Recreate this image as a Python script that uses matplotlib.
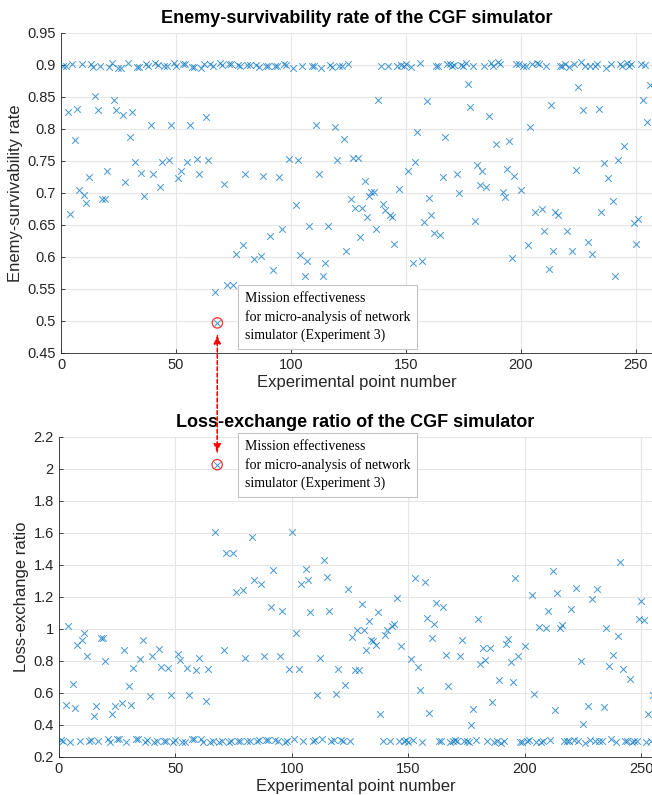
import matplotlib
matplotlib.use("Agg")
import matplotlib.pyplot as plt
from matplotlib.patches import ConnectionPatch
import numpy as np

# experimental point numbers 1..256
point_no = np.arange(1, 257)

# enemy-survivability rate per experimental point
enemy_surv = [
    0.899, 0.898, 0.826, 0.667, 0.902, 0.783, 0.831, 0.705, 0.901, 0.697,
    0.684, 0.725, 0.901, 0.897, 0.851, 0.829, 0.899, 0.691, 0.690, 0.734,
    0.897, 0.903, 0.845, 0.829, 0.896, 0.896, 0.822, 0.717, 0.903, 0.787,
    0.827, 0.749, 0.897, 0.897, 0.731, 0.696, 0.902, 0.899, 0.807, 0.729,
    0.903, 0.900, 0.709, 0.748, 0.899, 0.899, 0.751, 0.806, 0.903, 0.899,
    0.723, 0.734, 0.902, 0.901, 0.749, 0.806, 0.897, 0.897, 0.753, 0.730,
    0.896, 0.902, 0.818, 0.752, 0.902, 0.899, 0.546, 0.497, 0.903, 0.900,
    0.714, 0.557, 0.902, 0.901, 0.557, 0.605, 0.900, 0.899, 0.619, 0.730,
    0.900, 0.900, 0.545, 0.597, 0.900, 0.897, 0.601, 0.726, 0.898, 0.898,
    0.633, 0.580, 0.899, 0.899, 0.725, 0.643, 0.902, 0.900, 0.753, 0.540,
    0.896, 0.682, 0.751, 0.603, 0.899, 0.570, 0.593, 0.648, 0.899, 0.899,
    0.806, 0.730, 0.895, 0.571, 0.591, 0.648, 0.900, 0.897, 0.803, 0.752,
    0.898, 0.899, 0.785, 0.610, 0.901, 0.690, 0.754, 0.676, 0.754, 0.632,
    0.676, 0.719, 0.663, 0.695, 0.702, 0.702, 0.644, 0.846, 0.899, 0.683,
    0.673, 0.899, 0.665, 0.663, 0.620, 0.899, 0.707, 0.900, 0.898, 0.902,
    0.735, 0.897, 0.591, 0.748, 0.796, 0.903, 0.593, 0.654, 0.843, 0.692,
    0.666, 0.638, 0.899, 0.899, 0.634, 0.725, 0.787, 0.902, 0.901, 0.898,
    0.900, 0.729, 0.700, 0.900, 0.899, 0.903, 0.870, 0.835, 0.898, 0.657,
    0.743, 0.712, 0.735, 0.899, 0.709, 0.821, 0.903, 0.899, 0.776, 0.904,
    0.901, 0.702, 0.693, 0.737, 0.781, 0.598, 0.726, 0.902, 0.902, 0.704,
    0.899, 0.898, 0.618, 0.803, 0.902, 0.670, 0.903, 0.901, 0.675, 0.640,
    0.898, 0.581, 0.838, 0.609, 0.670, 0.665, 0.899, 0.899, 0.901, 0.640,
    0.897, 0.609, 0.901, 0.736, 0.865, 0.904, 0.829, 0.898, 0.623, 0.899,
    0.605, 0.899, 0.901, 0.832, 0.670, 0.747, 0.895, 0.724, 0.902, 0.688,
    0.571, 0.752, 0.901, 0.899, 0.773, 0.903, 0.899, 0.901, 0.653, 0.621,
    0.660, 0.902, 0.846, 0.900, 0.811, 0.868,
]

# loss-exchange ratio per experimental point
loss_ratio = [
    0.305, 0.303, 0.523, 1.021, 0.293, 0.654, 0.508, 0.898, 0.297, 0.929,
    0.977, 0.831, 0.297, 0.309, 0.454, 0.521, 0.302, 0.944, 0.944, 0.802,
    0.311, 0.291, 0.471, 0.521, 0.313, 0.312, 0.537, 0.867, 0.292, 0.644,
    0.527, 0.758, 0.311, 0.310, 0.815, 0.929, 0.296, 0.304, 0.581, 0.829,
    0.291, 0.299, 0.877, 0.762, 0.303, 0.302, 0.756, 0.585, 0.292, 0.304,
    0.842, 0.804, 0.294, 0.296, 0.756, 0.588, 0.310, 0.311, 0.746, 0.821,
    0.313, 0.296, 0.550, 0.752, 0.295, 0.303, 1.606, 2.027, 0.291, 0.299,
    0.871, 1.475, 0.295, 0.297, 1.475, 1.231, 0.300, 0.302, 1.242, 0.821,
    0.299, 0.300, 1.575, 1.304, 0.300, 0.308, 1.279, 0.829, 0.306, 0.305,
    1.138, 1.371, 0.304, 0.303, 0.833, 1.113, 0.295, 0.300, 0.748, 1.606,
    0.312, 0.975, 0.750, 1.283, 0.303, 1.377, 1.304, 1.104, 0.302, 0.304,
    0.585, 0.821, 0.314, 1.429, 1.325, 1.110, 0.299, 0.308, 0.596, 0.750,
    0.306, 0.303, 0.652, 1.250, 0.297, 0.950, 0.742, 0.992, 0.742, 1.156,
    0.996, 0.867, 1.050, 0.933, 0.923, 0.898, 1.106, 0.467, 0.302, 0.965,
    0.992, 0.302, 1.021, 1.033, 1.196, 0.302, 0.892, 0.300, 0.305, 0.294,
    0.813, 0.309, 1.317, 0.763, 0.617, 0.293, 1.294, 1.071, 0.477, 0.944,
    1.029, 1.165, 0.303, 0.302, 1.137, 0.835, 0.644, 0.296, 0.297, 0.305,
    0.300, 0.831, 0.929, 0.300, 0.303, 0.292, 0.398, 0.502, 0.306, 1.060,
    0.779, 0.881, 0.804, 0.302, 0.881, 0.544, 0.292, 0.303, 0.679, 0.290,
    0.297, 0.908, 0.935, 0.794, 0.667, 1.319, 0.831, 0.295, 0.296, 0.896,
    0.303, 0.306, 1.210, 0.596, 0.295, 1.010, 0.292, 0.297, 1.008, 1.113,
    0.306, 1.363, 0.492, 1.225, 1.008, 1.027, 0.302, 0.303, 0.297, 1.125,
    0.309, 1.258, 0.297, 0.800, 0.408, 0.290, 0.519, 0.306, 1.185, 0.303,
    1.248, 0.302, 0.297, 0.512, 1.008, 0.767, 0.315, 0.835, 0.295, 0.954,
    1.419, 0.752, 0.297, 0.303, 0.685, 0.292, 0.303, 0.297, 1.060, 1.175,
    1.058, 0.296, 0.467, 0.300, 0.590, 0.398,
]

# experiment 3 point (highlighted)
exp3_point = 68
note = "Mission effectiveness\nfor micro-analysis of network\nsimulator (Experiment 3)"

plt.rcParams['font.family'] = ['Liberation Sans', 'DejaVu Sans']
blue = '#0072BD'
tick_col = '#262626'

fig = plt.figure(figsize=(6.52, 7.95), dpi=100)
ax1 = fig.add_axes([61 / 652, 1 - 353 / 795, 591 / 652, 320 / 795])
ax2 = fig.add_axes([58.7 / 652, 1 - 757 / 795, 593.3 / 652, 320 / 795])

es = np.array(enemy_surv)
lr = np.array(loss_ratio)
i3 = exp3_point - 1

for ax, vals in [(ax1, es), (ax2, lr)]:
    ax.scatter(point_no, vals, marker='x', s=22, color=blue, alpha=0.7,
               linewidths=0.75, zorder=3)
    ax.scatter([exp3_point], [vals[i3]], s=55, facecolors='none',
               edgecolors='#ff3030', linewidths=0.9, zorder=4)
    ax.grid(True, color='#e6e6e6', linewidth=0.8)
    ax.set_axisbelow(True)
    for side in ['top', 'right']:
        ax.spines[side].set_visible(False)
    for side in ['left', 'bottom']:
        ax.spines[side].set_color('#262626')
        ax.spines[side].set_linewidth(0.6)
    ax.tick_params(direction='in', length=3, width=0.6, colors=tick_col,
                   labelsize=10.5)
    ax.set_xticks([0, 50, 100, 150, 200, 250])
    ax.set_xlabel('Experimental point number', fontsize=12, color=tick_col,
                  labelpad=2)

ax1.set_xlim(0, 257)
ax1.set_ylim(0.45, 0.95)
yt1 = [0.45, 0.5, 0.55, 0.6, 0.65, 0.7, 0.75, 0.8, 0.85, 0.9, 0.95]
ax1.set_yticks(yt1)
ax1.set_yticklabels(['%g' % v for v in yt1])
ax1.set_ylabel('Enemy-survivability rate', fontsize=12, color=tick_col,
               labelpad=3)
ax1.set_title('Enemy-survivability rate of the CGF simulator',
              fontsize=13, fontweight='bold', pad=7)

ax2.set_xlim(0, 254.6)
ax2.set_ylim(0.2, 2.2)
yt2 = [0.2, 0.4, 0.6, 0.8, 1.0, 1.2, 1.4, 1.6, 1.8, 2.0, 2.2]
ax2.set_yticks(yt2)
ax2.set_yticklabels(['%g' % v for v in yt2])
ax2.set_ylabel('Loss-exchange ratio', fontsize=12, color=tick_col,
               labelpad=3)
ax2.set_title('Loss-exchange ratio of the CGF simulator',
              fontsize=13, fontweight='bold', pad=7)

# annotation boxes
box = dict(boxstyle='square,pad=0.5', fc='white', ec='#c4c4c4', lw=0.8)
fig.text(245 / 652, 1 - 292 / 795, note, ha='left', va='top', fontsize=10,
         family='Liberation Serif', linespacing=1.45, bbox=box, zorder=10)
fig.text(245 / 652, 1 - 440 / 795, note, ha='left', va='top', fontsize=10,
         family='Liberation Serif', linespacing=1.45, bbox=box, zorder=10)

# red dashed arrow linking the two highlighted points
for a, b, ta, tb in [(es[i3], lr[i3], ax1.transData, ax2.transData),
                     (lr[i3], es[i3], ax2.transData, ax1.transData)]:
    con = ConnectionPatch(xyA=(exp3_point, a), coordsA=ta,
                          xyB=(exp3_point, b), coordsB=tb,
                          arrowstyle='-|>,head_length=0.5,head_width=0.22',
                          color='red', linestyle=(0, (3, 2)), lw=0.9,
                          shrinkA=9, shrinkB=9)
    fig.add_artist(con)

fig.savefig('out.png', dpi=100)
